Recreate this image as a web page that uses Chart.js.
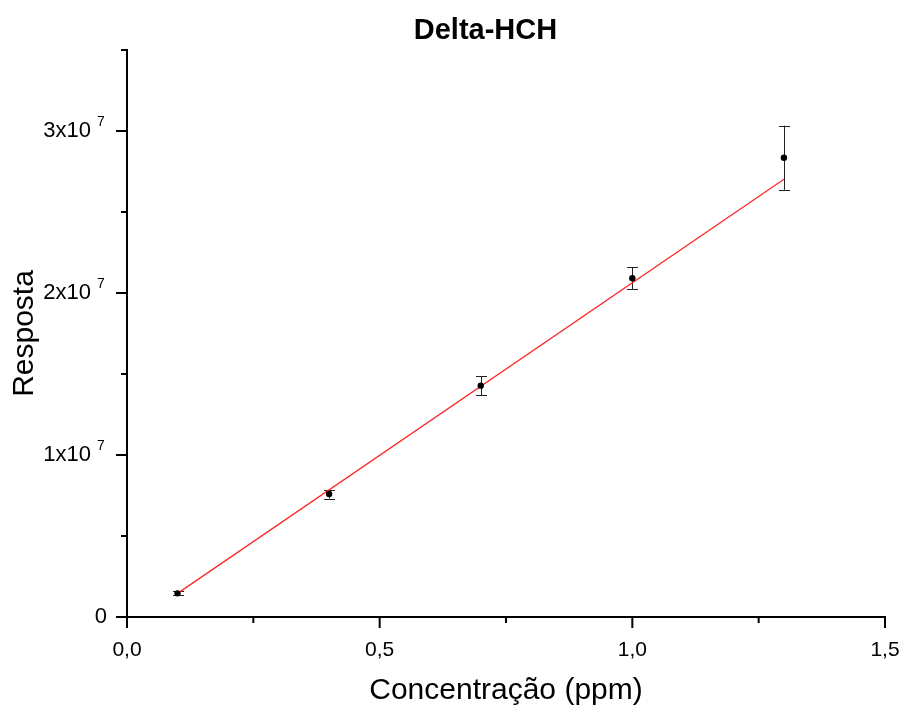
<!DOCTYPE html>
<html><head><meta charset="utf-8">
<script src="https://cdn.jsdelivr.net/npm/chart.js@4.4.1/dist/chart.umd.min.js"></script>
<style>html,body{margin:0;padding:0;background:#fff}#wrap{width:910px;height:711px}</style>
</head><body><div id="wrap"><canvas id="c" width="910" height="711"></canvas></div>
<script>
// ---- data ----
const concentration = [0.1, 0.4, 0.7, 1.0, 1.3];
const response = [1.46e6, 7.59e6, 1.428e7, 2.091e7, 2.835e7];
const responseError = [1.2e5, 2.8e5, 5.9e5, 6.7e5, 1.98e6];
const fitConcentration = [0.1, 1.3];
const fitResponse = [1.46e6, 2.702e7];
const xTickValues = [0, 0.5, 1.0, 1.5];
const xTickLabels = ['0,0', '0,5', '1,0', '1,5'];
const xMinorTicks = [0.25, 0.75, 1.25];
const yTickValues = [0, 1e7, 2e7, 3e7];
const yTickMantissa = ['0', '1x10', '2x10', '3x10'];
const yTickExponent = ['', '7', '7', '7'];
const yMinorTicks = [0.5e7, 1.5e7, 2.5e7, 3.5e7];

const FONT = "'Liberation Sans', Arial, Helvetica, sans-serif";
Chart.defaults.font.family = FONT;
Chart.defaults.color = '#000';

const decor = {
  id: 'decor',
  beforeDatasetsDraw(chart) {
    const ctx = chart.ctx, xs = chart.scales.x, ys = chart.scales.y;
    ctx.save();
    ctx.strokeStyle = '#222';
    ctx.lineWidth = 1;
    for (let i = 0; i < concentration.length; i++) {
      const px = Math.round(xs.getPixelForValue(concentration[i])) + 0.5;
      const top = ys.getPixelForValue(response[i] + responseError[i]);
      const bot = ys.getPixelForValue(response[i] - responseError[i]);
      ctx.beginPath();
      ctx.moveTo(px, top); ctx.lineTo(px, bot);
      ctx.moveTo(px - 5.5, Math.round(top) + 0.5); ctx.lineTo(px + 5.5, Math.round(top) + 0.5);
      ctx.moveTo(px - 5.5, Math.round(bot) + 0.5); ctx.lineTo(px + 5.5, Math.round(bot) + 0.5);
      ctx.stroke();
    }
    ctx.restore();
  },
  afterDraw(chart) {
    const ctx = chart.ctx, xs = chart.scales.x, ys = chart.scales.y;
    const area = chart.chartArea;
    ctx.save();
    ctx.strokeStyle = '#000';
    ctx.lineWidth = 2;
    ctx.beginPath();
    const yx = area.left;
    xTickValues.forEach(v => { const p = xs.getPixelForValue(v); ctx.moveTo(p, area.bottom); ctx.lineTo(p, area.bottom + 11); });
    xMinorTicks.forEach(v => { const p = xs.getPixelForValue(v); ctx.moveTo(p, area.bottom); ctx.lineTo(p, area.bottom + 6); });
    yTickValues.forEach(v => { const p = ys.getPixelForValue(v); ctx.moveTo(yx, p); ctx.lineTo(yx - 11, p); });
    yMinorTicks.forEach(v => { const p = ys.getPixelForValue(v); ctx.moveTo(yx, p); ctx.lineTo(yx - 6, p); });
    ctx.stroke();
    // y tick labels with superscript exponent
    ctx.fillStyle = '#000';
    ctx.textBaseline = 'middle';
    yTickValues.forEach((v, i) => {
      const p = ys.getPixelForValue(v);
      if (yTickExponent[i]) {
        ctx.font = '22px ' + FONT;
        ctx.textAlign = 'right';
        ctx.fillText(yTickMantissa[i], yx - 36, p);
        ctx.font = '14px ' + FONT;
        ctx.textAlign = 'left';
        ctx.fillText(yTickExponent[i], yx - 30, p - 9);
      } else {
        ctx.font = '22px ' + FONT;
        ctx.textAlign = 'right';
        ctx.fillText(yTickMantissa[i], yx - 20, p);
      }
    });
    ctx.restore();
  }
};

new Chart(document.getElementById('c'), {
  data: {
    datasets: [
      {
        type: 'scatter',
        label: 'Resposta',
        data: concentration.map((x, i) => ({ x: x, y: response[i] })),
        pointRadius: 3.2,
        pointBackgroundColor: '#000',
        pointBorderWidth: 0,
        order: 0
      },
      {
        type: 'line',
        label: 'Ajuste linear',
        data: fitConcentration.map((x, i) => ({ x: x, y: fitResponse[i] })),
        borderColor: 'rgb(255,40,40)',
        borderWidth: 1.3,
        pointRadius: 0,
        fill: false,
        order: 1
      }
    ]
  },
  options: {
    responsive: false,
    animation: false,
    devicePixelRatio: 1,
    layout: { padding: { left: 86, right: 25, top: 0, bottom: 0 } },
    plugins: {
      legend: { display: false },
      tooltip: { enabled: false },
      title: {
        display: true,
        text: 'Delta-HCH',
        color: '#000',
        font: { size: 29, weight: 'bold', family: FONT },
        padding: { top: 14, bottom: 1.2 }
      }
    },
    scales: {
      x: {
        type: 'linear',
        min: 0, max: 1.5,
        afterBuildTicks: (s) => { s.ticks = xTickValues.map(v => ({ value: v })); },
        afterFit: (s) => { s.height = 94; },
        grid: { display: false, drawTicks: true, tickLength: 21 },
        border: { display: true, color: '#000', width: 2 },
        ticks: {
          padding: 0,
          font: { size: 21 },
          color: '#000',
          maxRotation: 0,
          autoSkip: false,
          callback: (v) => { const i = xTickValues.indexOf(v); return i >= 0 ? xTickLabels[i] : ''; }
        },
        title: {
          display: true,
          text: 'Concentração (ppm)',
          color: '#000',
          font: { size: 30 },
          padding: { top: 0, bottom: 2 }
        }
      },
      y: {
        type: 'linear',
        min: 0, max: 3.5e7,
        afterBuildTicks: (s) => { s.ticks = yTickValues.map(v => ({ value: v })); },
        afterFit: (s) => { s.width = 41; },
        grid: { display: false, drawTicks: false },
        border: { display: true, color: '#000', width: 2 },
        ticks: { display: false },
        title: {
          display: true,
          text: 'Resposta',
          color: '#000',
          font: { size: 30 },
          padding: { top: -79, bottom: 0 }
        }
      }
    }
  },
  plugins: [decor]
});
</script>
</body></html>
